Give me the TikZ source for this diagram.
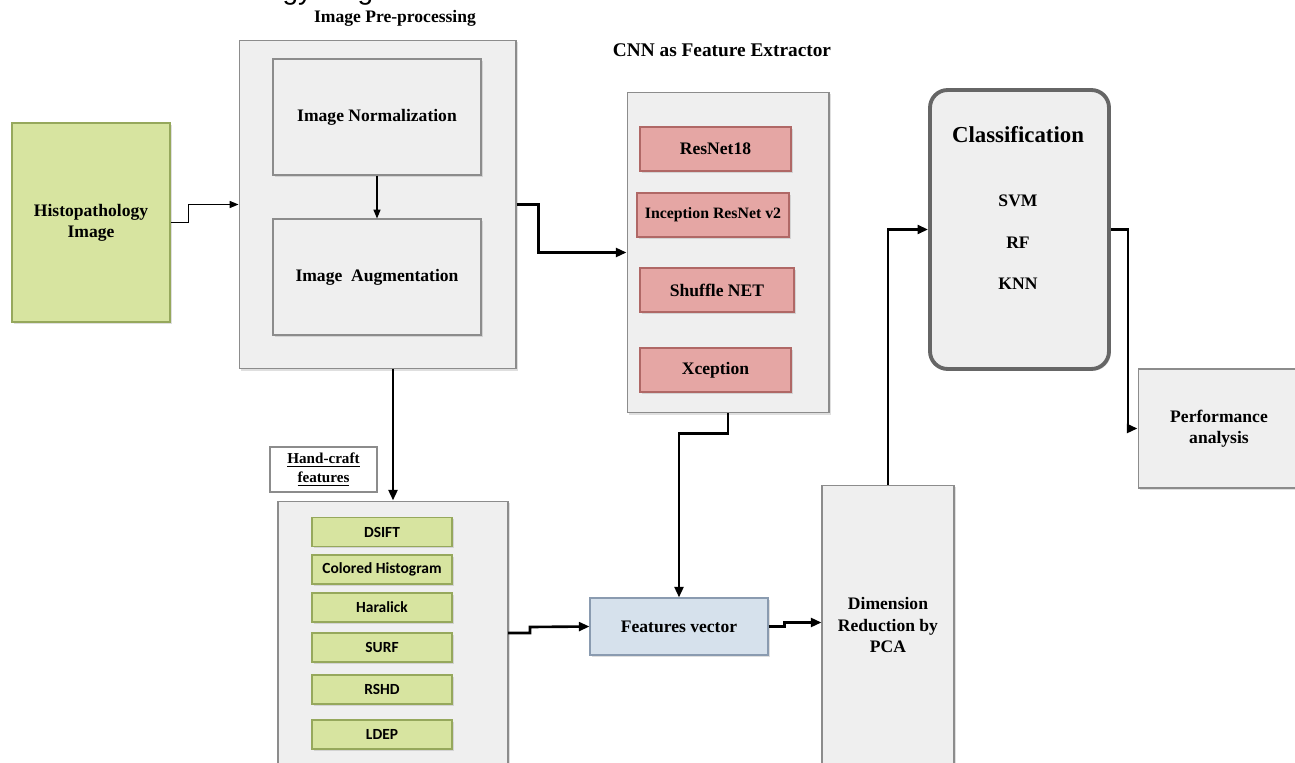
\documentclass[tikz,border=0pt]{standalone}
\usepackage{fontspec}
\setmainfont{Liberation Serif}
\newfontfamily\calibfont{Carlito}
\newfontfamily\arialfont{Liberation Sans}
\usetikzlibrary{positioning,calc,shadows,arrows.meta}

\definecolor{panelgray}{RGB}{239,239,239}
\definecolor{panelline}{RGB}{140,140,140}
\definecolor{olivefill}{RGB}{215,228,160}
\definecolor{oliveline}{RGB}{150,168,92}
\definecolor{rosefill}{RGB}{229,166,164}
\definecolor{roseline}{RGB}{176,104,102}
\definecolor{bluefill}{RGB}{214,225,236}
\definecolor{blueline}{RGB}{138,155,176}
\definecolor{clsline}{RGB}{102,102,102}

\tikzset{
  soft shadow/.style={drop shadow={opacity=0.25,shadow xshift=1pt,shadow yshift=-1pt}},
  panel/.style={draw=panelline, fill=panelgray, line width=0.6pt, inner sep=0pt, soft shadow},
  olivebox/.style={draw=oliveline, fill=olivefill, line width=0.6pt, inner sep=0pt, soft shadow,
                   minimum width=2.8cm, minimum height=0.58cm},
  rosebox/.style={draw=roseline, fill=rosefill, line width=0.6pt, inner sep=0pt, soft shadow,
                  minimum height=0.88cm},
  bluebox/.style={draw=blueline, fill=bluefill, line width=0.6pt, inner sep=0pt, soft shadow},
  bigtxt/.style={font=\bfseries\fontsize{10}{12}\selectfont, align=center},
  smalltxt/.style={font=\calibfont\bfseries\fontsize{8.8}{10}\selectfont},
  thinarrow/.style={-{Triangle[length=5pt,width=4pt]}, line width=0.6pt},
  thickarrow/.style={-{Triangle[length=6pt,width=5pt]}, line width=1.5pt},
}

\begin{document}
\begin{tikzpicture}[x=0.02cm,y=-0.02cm]
    \useasboundingbox (0,0) rectangle (1295,763);

    % heading, cut by the top edge
    \node[anchor=base west, inner sep=0pt, font=\arialfont\fontsize{16}{18}\selectfont] (heading) at (151,0) {Methodology diagram};

    % input image
    \node[draw=oliveline, fill=olivefill, line width=0.6pt, soft shadow, bigtxt,
          minimum width=3.16cm, minimum height=3.98cm] (histo) at (91,222.5) {Histopathology\\Image};

    % pre-processing block
    \node[bigtxt] (prepT) at (395,18) {Image Pre-processing};
    \node[panel, minimum width=5.54cm, minimum height=6.58cm] (prep) at (377.5,204.5) {};
    \node[panel, bigtxt, minimum width=4.16cm, minimum height=2.32cm] (norm) at (377,117) {Image Normalization};
    \node[panel, bigtxt, minimum width=4.16cm, minimum height=2.32cm] (aug) at (377,277) {Image~~Augmentation};

    % CNN block
    \node[bigtxt, font=\bfseries\fontsize{11}{13}\selectfont] (cnnT) at (722,50) {CNN as Feature Extractor};
    \node[panel, minimum width=4.04cm, minimum height=6.42cm] (cnn) at (728,252.5) {};
    \node[rosebox, bigtxt, minimum width=3.02cm] (resnet) at (715.5,149) {ResNet18};
    \node[rosebox, bigtxt, font=\bfseries\fontsize{9}{11}\selectfont, minimum width=3.04cm] (incep) at (713,215) {Inception ResNet v2};
    \node[rosebox, bigtxt, minimum width=3.08cm] (shuffle) at (717,290) {Shuffle NET};
    \node[rosebox, bigtxt, minimum width=3.02cm] (xcep) at (715.5,370) {Xception};

    % hand-crafted block
    \node[draw=panelline, fill=white, line width=0.6pt, inner sep=0pt, align=center,
          font=\bfseries\fontsize{8.6}{10}\selectfont, minimum width=2.14cm, minimum height=0.9cm]
          (hcT) at (323.5,469.5) {\underline{Hand-craft}\\[1pt]\underline{features}};
    \node[panel, minimum width=4.6cm, minimum height=5.48cm] (hc) at (393,638) {};
    \node[olivebox, smalltxt] (dsift) at (382,532) {DSIFT};
    \node[olivebox, smalltxt] (colhist) at (382,569.5) {Colored Histogram};
    \node[olivebox, smalltxt] (haralick) at (382,607.5) {Haralick};
    \node[olivebox, smalltxt] (surf) at (382,647.5) {SURF};
    \node[olivebox, smalltxt] (rshd) at (382,689.5) {RSHD};
    \node[olivebox, smalltxt] (ldep) at (382,734.5) {LDEP};

    % fusion, reduction, classification
    \node[bluebox, bigtxt, minimum width=3.56cm, minimum height=1.14cm] (fvec) at (679,626.5) {Features vector};
    \node[panel, bigtxt, minimum width=2.64cm, minimum height=5.6cm] (dimred) at (888,625) {Dimension\\Reduction by\\PCA};
    \node[panel, draw=clsline, line width=2.2pt, rounded corners=10pt,
          minimum width=3.58cm, minimum height=5.58cm] (cls) at (1019.5,229.5) {};
    \node[font=\bfseries\fontsize{13}{15}\selectfont] (clsT) at (1018,135) {Classification};
    \node[bigtxt] (svm) at (1018,201) {SVM};
    \node[bigtxt] (rf) at (1018,243) {RF};
    \node[bigtxt] (knn) at (1018,284) {KNN};
    \node[panel, bigtxt, minimum width=3.24cm, minimum height=2.38cm] (perf) at (1219,428.5) {Performance\\analysis};

    % connectors
    \coordinate (hcout) at (508,633);
    \draw[thinarrow] (histo.east) -- ++(18,0) |- (prep.west);
    \draw[thinarrow] (norm.south) -- (aug.north);
    \draw[thickarrow] (prep.east) -- ++(22,0) |- (cnn.west);
    \draw[thickarrow] (prep.south -| hc.north) -- (hc.north);
    \draw[thickarrow] (hcout) -| ++(22,-6) -- (fvec.west);
    \draw[thickarrow] (cnn.south) -- ++(0,20) -| (fvec.north);
    \draw[thickarrow] (fvec.east) -| ++(16,-4) coordinate (fstep) -- (fstep -| dimred.west);
    \draw[thickarrow] (dimred.north) |- (cls.west);
    \draw[thickarrow] (cls.east) -- ++(17,0) |- (perf.west);
\end{tikzpicture}
\end{document}
